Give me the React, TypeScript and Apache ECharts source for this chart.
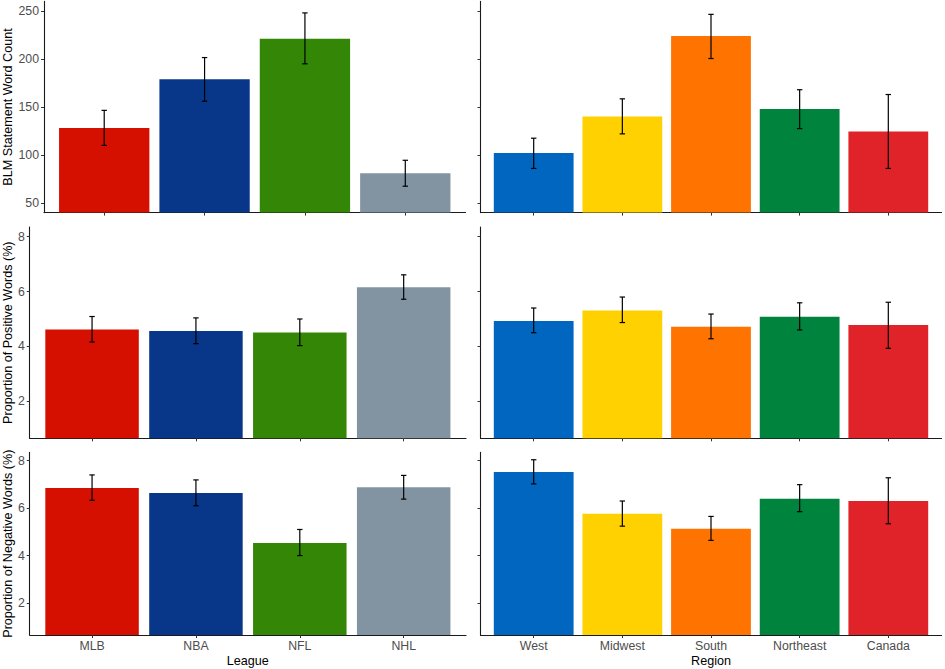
import React, { useEffect, useRef } from "react";
import * as echarts from "echarts";

const leagues = ["MLB", "NBA", "NFL", "NHL"];
const regions = ["West", "Midwest", "South", "Northeast", "Canada"];

const leagueColors = ["#D51000", "#083688", "#338606", "#8294A1"];
const regionColors = ["#0066C0", "#FFD100", "#FF7300", "#00843D", "#E02328"];

const wordLeague = [128, 179, 221, 81];
const wordLeagueLo = [110, 156, 195, 67.5];
const wordLeagueHi = [146.5, 201.5, 248, 94.5];

const wordRegion = [102, 140, 224, 148, 124.5];
const wordRegionLo = [86, 122, 200.5, 127.5, 86];
const wordRegionHi = [117.5, 158.5, 246.5, 168, 163];

const posLeague = [4.62, 4.56, 4.51, 6.16];
const posLeagueLo = [4.16, 4.1, 4.03, 5.72];
const posLeagueHi = [5.09, 5.04, 5.0, 6.61];

const posRegion = [4.93, 5.31, 4.72, 5.08, 4.78];
const posRegionLo = [4.5, 4.87, 4.28, 4.6, 3.93];
const posRegionHi = [5.4, 5.8, 5.18, 5.59, 5.61];

const negLeague = [6.85, 6.64, 4.53, 6.88];
const negLeagueLo = [6.33, 6.1, 4.0, 6.38];
const negLeagueHi = [7.4, 7.19, 5.1, 7.38];

const negRegion = [7.52, 5.76, 5.13, 6.4, 6.3];
const negRegionLo = [7.02, 5.24, 4.64, 5.85, 5.34];
const negRegionHi = [8.04, 6.3, 5.65, 6.99, 7.28];

const wordTicks = [50, 100, 150, 200, 250];
const pctTicks = [2, 4, 6, 8];

const FONT = "Liberation Sans, Arial, sans-serif";

export default function App() {
  const ref = useRef<HTMLDivElement>(null);

  useEffect(() => {
    if (!ref.current) return;
    const chart = echarts.init(ref.current, undefined, { renderer: "svg" });

    const rows = [
      { top: 1.4, height: 211.2, min: 40, max: 260, ticks: wordTicks, title: "BLM Statement Word Count" },
      { top: 227.1, height: 211.2, min: 0.65, max: 8.35, ticks: pctTicks, title: "Proportion of Positive Words (%)" },
      { top: 452.4, height: 182.6, min: 0.65, max: 8.35, ticks: pctTicks, title: "Proportion of Negative Words (%)" },
    ];
    const leftCols = [
      { left: 44, width: 421.5, gap: 29.5 },
      { left: 29.7, width: 436.3, gap: 15.7 },
      { left: 29.7, width: 436.3, gap: 15.7 },
    ];
    const rightCol = { left: 480.5, width: 461 };

    const panelData = [
      [
        { vals: wordLeague, lo: wordLeagueLo, hi: wordLeagueHi, cats: leagues, colors: leagueColors },
        { vals: wordRegion, lo: wordRegionLo, hi: wordRegionHi, cats: regions, colors: regionColors },
      ],
      [
        { vals: posLeague, lo: posLeagueLo, hi: posLeagueHi, cats: leagues, colors: leagueColors },
        { vals: posRegion, lo: posRegionLo, hi: posRegionHi, cats: regions, colors: regionColors },
      ],
      [
        { vals: negLeague, lo: negLeagueLo, hi: negLeagueHi, cats: leagues, colors: leagueColors },
        { vals: negRegion, lo: negRegionLo, hi: negRegionHi, cats: regions, colors: regionColors },
      ],
    ];

    const grids: any[] = [];
    const xAxes: any[] = [];
    const yAxes: any[] = [];
    const series: any[] = [];

    const axisLine = { show: true, lineStyle: { color: "#1a1a1a", width: 1.1 } };
    const axisTick = (vals: number[]) => ({
      show: true,
      length: 3,
      lineStyle: { color: "#333333", width: 1 },
      customValues: vals,
    });

    rows.forEach((row, r) => {
      [0, 1].forEach((c) => {
        const idx = grids.length;
        const pd = panelData[r][c];
        const col = c === 0 ? leftCols[r] : rightCol;
        grids.push({ left: col.left, top: row.top, width: col.width, height: row.height });
        const catPos = pd.cats.map((_, i) => i + 1);
        const isBottom = r === 2;
        xAxes.push({
          type: "value",
          gridIndex: idx,
          min: 0.4,
          max: pd.cats.length + 0.6,
          axisLine,
          axisTick: axisTick(catPos),
          splitLine: { show: false },
          axisLabel: {
            show: isBottom,
            customValues: catPos,
            formatter: (v: number) => pd.cats[Math.round(v) - 1] ?? "",
            color: "#4D4D4D",
            fontSize: 12.3,
            fontFamily: FONT,
            margin: 5,
          },
          name: isBottom ? (c === 0 ? "League" : "Region") : "",
          nameLocation: "middle",
          nameGap: 19,
          nameTextStyle: { color: "#000", fontSize: 12.6, fontFamily: FONT },
        });
        yAxes.push({
          type: "value",
          gridIndex: idx,
          min: row.min,
          max: row.max,
          axisLine,
          axisTick: axisTick(row.ticks),
          splitLine: { show: false },
          axisLabel: {
            show: c === 0,
            customValues: row.ticks,
            color: "#4D4D4D",
            fontSize: 12.3,
            fontFamily: FONT,
            margin: 5,
          },
          name: c === 0 ? row.title : "",
          nameLocation: "middle",
          nameRotate: 90,
          nameGap: c === 0 ? leftCols[r].gap : 0,
          nameTextStyle: { color: "#000", fontSize: 12.6, fontFamily: FONT },
        });
        const data = pd.vals.map((v, i) => [i + 1, v, pd.lo[i], pd.hi[i]]);
        const yMin = row.min;
        series.push({
          type: "custom",
          xAxisIndex: idx,
          yAxisIndex: idx,
          data,
          encode: { x: 0, y: [1, 2, 3] },
          renderItem: (params: any, api: any) => {
            const x = api.value(0);
            const y = api.value(1);
            const lo = api.value(2);
            const hi = api.value(3);
            const tl = api.coord([x - 0.45, y]);
            const br = api.coord([x + 0.45, yMin]);
            const top = api.coord([x, hi]);
            const bot = api.coord([x, lo]);
            const capL = top[0] - 2.7;
            const capR = top[0] + 2.7;
            const errStyle = { stroke: "#000", lineWidth: 1.2 };
            return {
              type: "group",
              children: [
                {
                  type: "rect",
                  shape: { x: tl[0], y: tl[1], width: br[0] - tl[0], height: br[1] - tl[1] },
                  style: { fill: pd.colors[params.dataIndex] },
                },
                { type: "line", shape: { x1: top[0], y1: top[1], x2: bot[0], y2: bot[1] }, style: errStyle },
                { type: "line", shape: { x1: capL, y1: top[1], x2: capR, y2: top[1] }, style: errStyle },
                { type: "line", shape: { x1: capL, y1: bot[1], x2: capR, y2: bot[1] }, style: errStyle },
              ],
            };
          },
        });
      });
    });

    chart.setOption({
      animation: false,
      backgroundColor: "#ffffff",
      grid: grids,
      xAxis: xAxes,
      yAxis: yAxes,
      series,
    });

    return () => chart.dispose();
  }, []);

  return (
    <div
      ref={ref}
      style={{ position: "fixed", left: 0, top: 0, width: 945, height: 669, background: "#fff" }}
    />
  );
}
